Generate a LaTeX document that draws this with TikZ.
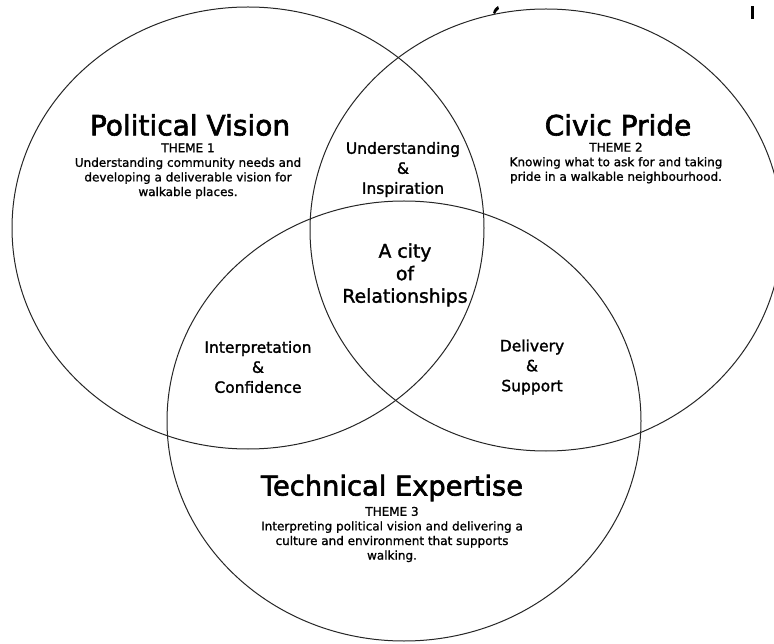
\documentclass[tikz,border=0pt]{standalone}
\usepackage{fontspec}
\setmainfont{DejaVu Sans}
\newfontfamily\heavyfont[FakeBold=2.2]{DejaVu Sans}
\newfontfamily\midfont[FakeBold=1.6]{DejaVu Sans}
\newfontfamily\smallfont[FakeBold=1.1]{DejaVu Sans}
\begin{document}
\begin{tikzpicture}[x=1pt,y=-1pt,
  ring/.style={draw=black!85, line width=1pt},
  titletxt/.style={font=\heavyfont\fontsize{28}{30}\selectfont, inner sep=0pt},
  bodytxt/.style={font=\smallfont\fontsize{12}{14.6}\selectfont, align=center, inner sep=0pt},
  midtxt/.style={font=\midfont\fontsize{15.5}{20}\selectfont, align=center, inner sep=0pt},
  citytxt/.style={font=\midfont\fontsize{18.8}{22.5}\selectfont, align=center, inner sep=0pt}]
\useasboundingbox (0,0) rectangle (774,644);
\clip (0,0) rectangle (774,644);
\fill[white] (0,0) rectangle (774,644);
% circles
\draw[ring] (248,228) ellipse [x radius=236pt, y radius=221pt];
\draw[ring] (546,230) ellipse [x radius=236pt, y radius=221pt];
\draw[ring] (404,421) ellipse [x radius=237pt, y radius=220pt];
% fragments of cut-off text at the top
\fill (493,13) .. controls (494,9) and (496,7) .. (498,6) -- (499,9) .. controls (497,10) and (496,12) .. (495,14) -- cycle;
\fill (751,6) rectangle (754,19);
% theme 1
\node[titletxt] (pvt) at (190,125) {Political Vision};
\node[bodytxt] (pvb) at (188,171) {THEME 1\\Understanding community needs and\\developing a deliverable vision for\\walkable places.};
% theme 2
\node[titletxt] (cpt) at (618,125) {Civic Pride};
\node[bodytxt] (cpb) at (616,163) {THEME 2\\Knowing what to ask for and taking\\pride in a walkable neighbourhood.};
% theme 3
\node[titletxt, font=\heavyfont\fontsize{27.3}{30}\selectfont] (tet) at (392,488) {Technical Expertise};
\node[bodytxt] (teb) at (392,534.5) {THEME 3\\Interpreting political vision and delivering a\\culture and environment that supports\\walking.};
% overlaps
\node[midtxt] (ui) at (403,169.5) {Understanding\\\&\\Inspiration};
\node[midtxt] (ic) at (258,367) {Interpretation\\\&\\Confidence};
\node[midtxt] (ds) at (532,367) {Delivery\\\&\\Support};
\node[citytxt] (city) at (405,275) {A city\\of\\Relationships};
\end{tikzpicture}
\end{document}
